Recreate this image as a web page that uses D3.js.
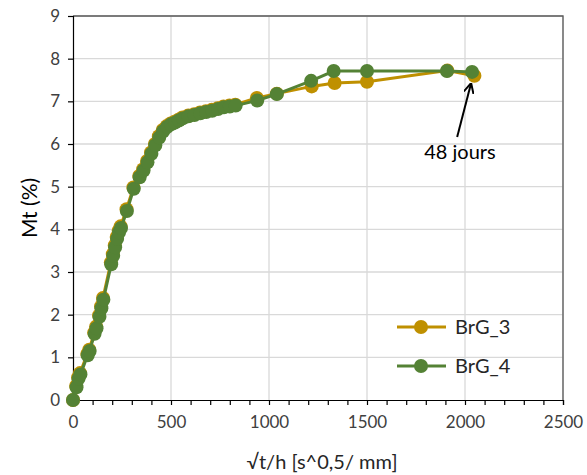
<!DOCTYPE html>
<html><head><meta charset="utf-8">
<script src="https://cdn.jsdelivr.net/npm/d3@7"></script>
<style>body{margin:0;background:#fff;}svg{display:block;font-family:Lato,"Open Sans",sans-serif;}</style>
</head><body><svg id="c" width="587" height="475"></svg>
<script>
const seriesNames = ["BrG_3", "BrG_4"];
const seriesColors = ["#BF9000", "#548235"];
const xTicks = [0, 500, 1000, 1500, 2000, 2500];
const yTicks = [0, 1, 2, 3, 4, 5, 6, 7, 8, 9];
const brg3X = [0, 16, 26, 36, 73, 83, 108, 118, 133, 143, 153, 193, 203, 213, 223, 233, 243, 273, 308, 338, 358, 378, 398, 418, 438, 458, 478, 498, 518, 538, 558, 588, 618, 648, 678, 708, 738, 768, 798, 828, 938, 1040, 1218, 1335, 1500, 1910, 2048];
const brg3Y = [0, 0.33, 0.53, 0.63, 1.08, 1.18, 1.58, 1.72, 1.98, 2.19, 2.39, 3.22, 3.42, 3.62, 3.82, 3.97, 4.07, 4.47, 4.98, 5.25, 5.41, 5.6, 5.8, 6.0, 6.18, 6.33, 6.42, 6.48, 6.52, 6.57, 6.62, 6.67, 6.7, 6.74, 6.77, 6.8, 6.84, 6.88, 6.9, 6.92, 7.08, 7.18, 7.35, 7.43, 7.46, 7.72, 7.6];
const brg4X = [0, 18, 28, 38, 75, 85, 110, 120, 135, 145, 155, 195, 205, 215, 225, 235, 245, 275, 310, 340, 360, 380, 400, 420, 440, 460, 480, 500, 520, 540, 560, 590, 620, 650, 680, 710, 740, 770, 800, 830, 940, 1040, 1215, 1330, 1500, 1908, 2036];
const brg4Y = [0, 0.3, 0.5, 0.6, 1.05, 1.15, 1.55, 1.68, 1.95, 2.15, 2.35, 3.18, 3.38, 3.58, 3.78, 3.93, 4.03, 4.43, 4.95, 5.22, 5.38, 5.57, 5.77, 5.97, 6.15, 6.3, 6.4, 6.46, 6.5, 6.55, 6.6, 6.65, 6.68, 6.72, 6.75, 6.78, 6.82, 6.86, 6.88, 6.9, 7.02, 7.17, 7.48, 7.71, 7.71, 7.71, 7.69];
const annotationText = "48 jours";
const xTitle = "\u221At/h [s^0,5/ mm]";
const yTitle = "Mt (%)";

const svg = d3.select("#c");
const m = {l: 73, r: 563, t: 16, b: 400};
const x = d3.scaleLinear().domain([0, 2500]).range([m.l, m.r]);
const y = d3.scaleLinear().domain([0, 9]).range([m.b, m.t]);

svg.append("g").selectAll("line").data(xTicks.slice(1)).join("line")
  .attr("x1", d => x(d)).attr("x2", d => x(d)).attr("y1", m.t).attr("y2", m.b)
  .attr("stroke", "#d9d9d9").attr("stroke-width", 1.3);
svg.append("g").selectAll("line").data(yTicks.slice(1)).join("line")
  .attr("x1", m.l).attr("x2", m.r).attr("y1", d => y(d)).attr("y2", d => y(d))
  .attr("stroke", "#d9d9d9").attr("stroke-width", 1.3);
svg.append("path").attr("d", `M${m.l},${m.t}H${m.r}V${m.b}`).attr("fill", "none").attr("stroke", "#595959").attr("stroke-width", 1.3);

const xAxis = d3.axisBottom(x).tickValues(d3.range(0, 2501, 100)).tickSize(5).tickFormat("");
const gx = svg.append("g").attr("transform", `translate(0,${m.b})`).call(xAxis);
gx.selectAll("path, line").attr("stroke", "#000").attr("stroke-width", 1.2);
const xLab = d3.axisBottom(x).tickValues(xTicks).tickSize(0).tickPadding(16).tickFormat(d3.format("d"));
const gx2 = svg.append("g").attr("transform", `translate(0,${m.b})`).call(xLab);
gx2.select(".domain").remove();
gx2.selectAll("text").attr("font-size", 17).attr("fill", "#404040").attr("font-family", "Lato");

const yAxis = d3.axisLeft(y).tickValues(yTicks).tickSize(5).tickPadding(8).tickFormat(d3.format("d"));
const gy = svg.append("g").attr("transform", `translate(${m.l},0)`).call(yAxis);
gy.selectAll("path, line").attr("stroke", "#000").attr("stroke-width", 1.2);
gy.selectAll("text").attr("font-size", 17).attr("fill", "#404040").attr("font-family", "Lato");

svg.append("text").attr("x", 322).attr("y", 469).attr("text-anchor", "middle")
  .attr("font-size", 20).attr("fill", "#262626").text(xTitle);
svg.append("text").attr("transform", "translate(37,208) rotate(-90)").attr("text-anchor", "middle")
  .attr("font-size", 21).attr("fill", "#000").text(yTitle);

const series = [
  {name: seriesNames[0], color: seriesColors[0], pts: brg3X.map((v, i) => [v, brg3Y[i]])},
  {name: seriesNames[1], color: seriesColors[1], pts: brg4X.map((v, i) => [v, brg4Y[i]])}
];
const line = d3.line().x(d => x(d[0])).y(d => y(d[1]));
series.forEach(s => {
  const g = svg.append("g");
  g.append("path").attr("d", line(s.pts)).attr("fill", "none").attr("stroke", s.color).attr("stroke-width", 3);
  g.selectAll("circle").data(s.pts).join("circle")
    .attr("cx", d => x(d[0])).attr("cy", d => y(d[1])).attr("r", 7).attr("fill", s.color);
});

series.forEach((s, i) => {
  const ly = 327 + i * 39;
  svg.append("line").attr("x1", 397).attr("x2", 446).attr("y1", ly).attr("y2", ly).attr("stroke", s.color).attr("stroke-width", 3);
  svg.append("circle").attr("cx", 421).attr("cy", ly).attr("r", 7).attr("fill", s.color);
  svg.append("text").attr("x", 455).attr("y", ly + 7).attr("font-size", 20).attr("fill", "#262626").text(s.name);
});

svg.append("defs").append("marker").attr("id", "ah").attr("viewBox", "0 0 10 10").attr("refX", 9).attr("refY", 5)
  .attr("markerWidth", 5).attr("markerHeight", 5).attr("orient", "auto")
  .append("path").attr("d", "M0,0L10,5L0,10").attr("fill", "none").attr("stroke", "#000").attr("stroke-width", 2);
svg.append("line").attr("x1", x(1960)).attr("y1", 137).attr("x2", x(2030)).attr("y2", 84)
  .attr("stroke", "#000").attr("stroke-width", 2).attr("marker-end", "url(#ah)");
svg.append("text").attr("x", 460).attr("y", 159).attr("text-anchor", "middle").attr("font-size", 20).attr("fill", "#000").text(annotationText);
</script></body></html>
